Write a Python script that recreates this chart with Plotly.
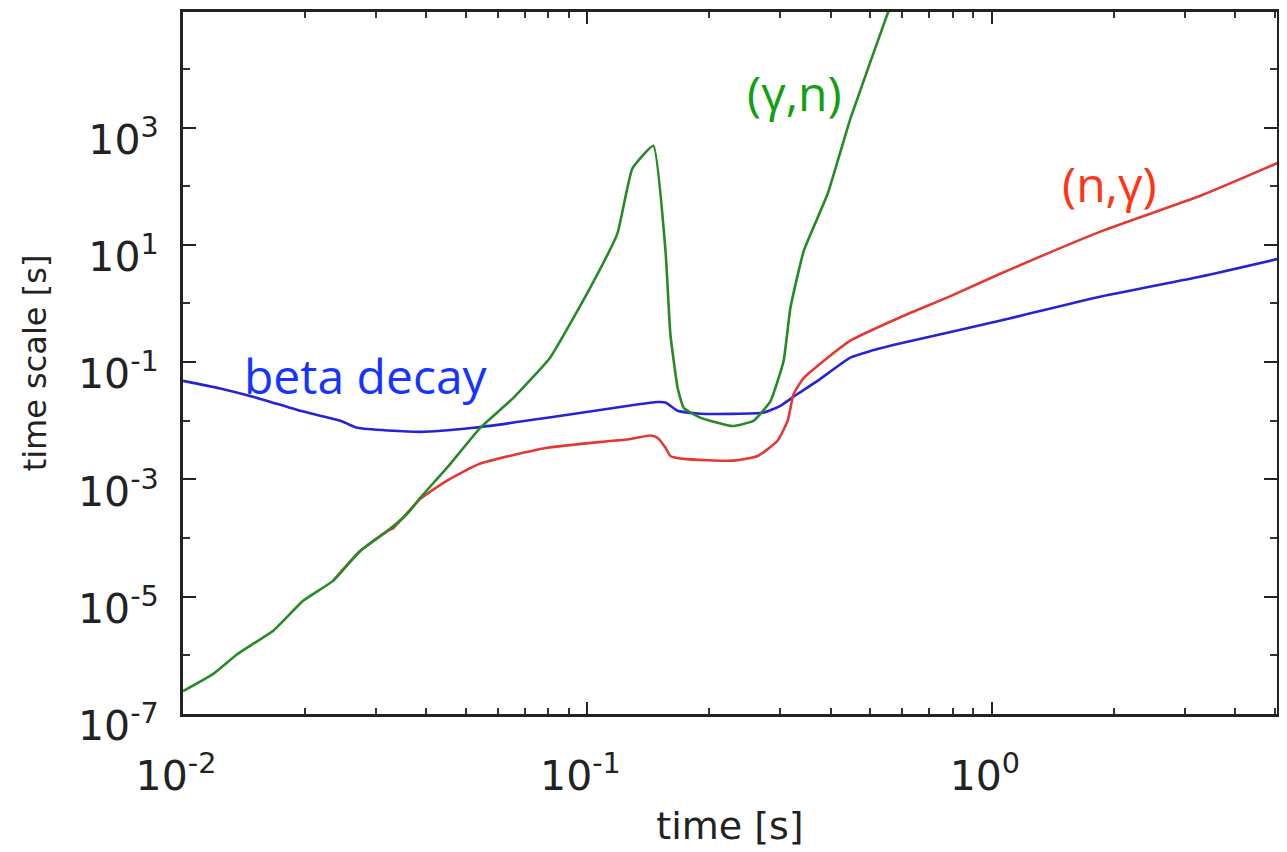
import plotly.graph_objects as go

# ---- data (log10 of time [s] and log10 of time scale [s]) ----
beta_log_t = [-2.000, -1.908, -1.817, -1.710, -1.611, -1.569, -1.413, -1.282, -1.099,
              -0.894, -0.827, -0.807, -0.777, -0.720, -0.564, -0.522, -0.480, -0.431,
              -0.349, -0.300, -0.225, 0.022, 0.270, 0.517, 0.708]
beta_log_tau = [-1.32, -1.45, -1.61, -1.83, -2.00, -2.12, -2.19, -2.12, -1.95,
                -1.74, -1.68, -1.69, -1.83, -1.88, -1.86, -1.74, -1.54, -1.32,
                -0.92, -0.81, -0.68, -0.29, 0.12, 0.46, 0.76]

ng_log_t = [-1.629, -1.562, -1.495, -1.480, -1.413, -1.347, -1.265, -1.099, -0.894,
            -0.844, -0.827, -0.807, -0.795, -0.762, -0.639, -0.579, -0.530, -0.505,
            -0.490, -0.465, -0.416, -0.349, -0.225, -0.101, 0.022, 0.270, 0.517, 0.708]
ng_log_tau = [-4.73, -4.22, -3.88, -3.83, -3.33, -3.02, -2.73, -2.46, -2.31,
              -2.25, -2.29, -2.46, -2.60, -2.65, -2.68, -2.60, -2.34, -2.00,
              -1.54, -1.27, -0.98, -0.63, -0.23, 0.13, 0.51, 1.23, 1.84, 2.40]

gn_log_t = [-2.000, -1.926, -1.866, -1.777, -1.703, -1.629, -1.562, -1.495, -1.446,
            -1.413, -1.347, -1.265, -1.183, -1.092, -0.993, -0.926, -0.889, -0.837,
            -0.807, -0.795, -0.777, -0.762, -0.720, -0.641, -0.589, -0.547, -0.515,
            -0.498, -0.465, -0.406, -0.349, -0.257, -0.225]
gn_log_tau = [-6.61, -6.32, -5.98, -5.58, -5.07, -4.73, -4.22, -3.88, -3.59,
              -3.31, -2.80, -2.12, -1.61, -0.92, 0.27, 1.19, 2.30, 2.69,
              0.90, -0.52, -1.44, -1.78, -1.95, -2.09, -2.00, -1.66, -0.98,
              -0.07, 0.90, 1.87, 3.17, 4.96, 5.59]

x_major_exp = [-2, -1, 0]
y_major_exp = [-7, -5, -3, -1, 1, 3]
y_minor_exp = [-6, -4, -2, 0, 2, 4]
minor_digits = [2, 3, 4, 5, 6, 7, 8, 9]

def pw(v):
    return [10 ** e for e in v]

fig = go.Figure()
fig.add_trace(go.Scatter(x=pw(beta_log_t), y=pw(beta_log_tau), mode="lines",
                         line=dict(color="#2424d6", width=2.6, shape="spline", smoothing=0.5),
                         name="beta decay"))
fig.add_trace(go.Scatter(x=pw(ng_log_t), y=pw(ng_log_tau), mode="lines",
                         line=dict(color="#e23a32", width=2.6, shape="spline", smoothing=0.5),
                         name="(n,γ)"))
fig.add_trace(go.Scatter(x=pw(gn_log_t), y=pw(gn_log_tau), mode="lines",
                         line=dict(color="#268a26", width=2.6, shape="spline", smoothing=0.4),
                         name="(γ,n)"))

x_minor_vals = [d * 10 ** e for e in x_major_exp for d in minor_digits]

tickfont = dict(family="DejaVu Sans", size=41, color="#222222")

fig.update_layout(
    width=1287, height=852,
    margin=dict(l=175, r=18, t=4, b=146),
    paper_bgcolor="white", plot_bgcolor="white",
    showlegend=False,
    xaxis=dict(
        type="log", range=[-2.0, 0.705], automargin=False,
        tickvals=pw(x_major_exp),
        ticktext=[f"10<sup>{e}</sup>" for e in x_major_exp],
        ticks="inside", ticklen=12, tickwidth=2, tickcolor="#222222",
        minor=dict(tickvals=x_minor_vals, ticks="inside", ticklen=6, tickwidth=1.5,
                   tickcolor="#333333", showgrid=False),
        showline=True, linecolor="#222222", linewidth=3, mirror="ticks",
        showgrid=False, zeroline=False,
        tickfont=tickfont, ticklabelstandoff=24, ticklabelshift=-7,
        title=dict(text="time [s]", font=dict(family="DejaVu Sans", size=38, color="#222222"),
                   standoff=14),
    ),
    yaxis=dict(
        type="log", range=[-7.0, 4.97], automargin=False,
        tickvals=pw(y_major_exp),
        ticktext=[f"10<sup>{e}</sup>" for e in y_major_exp],
        ticks="inside", ticklen=13, tickwidth=2, tickcolor="#222222",
        minor=dict(tickvals=pw(y_minor_exp), ticks="inside", ticklen=7, tickwidth=2,
                   tickcolor="#333333", showgrid=False),
        showline=True, linecolor="#222222", linewidth=3, mirror="ticks",
        showgrid=False, zeroline=False,
        tickfont=tickfont, ticklabelstandoff=13, ticklabelshift=12,
        title=dict(text="time scale [s]", font=dict(family="DejaVu Sans", size=32, color="#222222"),
                   standoff=22),
    ),
    annotations=[
        dict(x=-1.548, y=-1.22, xref="x", yref="y", text="beta decay", showarrow=False,
             font=dict(family="Open Sans", size=48, color="#1434ff")),
        dict(x=-0.488, y=3.60, xref="x", yref="y", text="(γ,n)", showarrow=False,
             font=dict(family="Open Sans", size=48, color="#12a012")),
        dict(x=0.292, y=2.04, xref="x", yref="y", text="(n,γ)", showarrow=False,
             font=dict(family="Open Sans", size=48, color="#ff3414")),
    ],
)

fig.write_html("out.html")
